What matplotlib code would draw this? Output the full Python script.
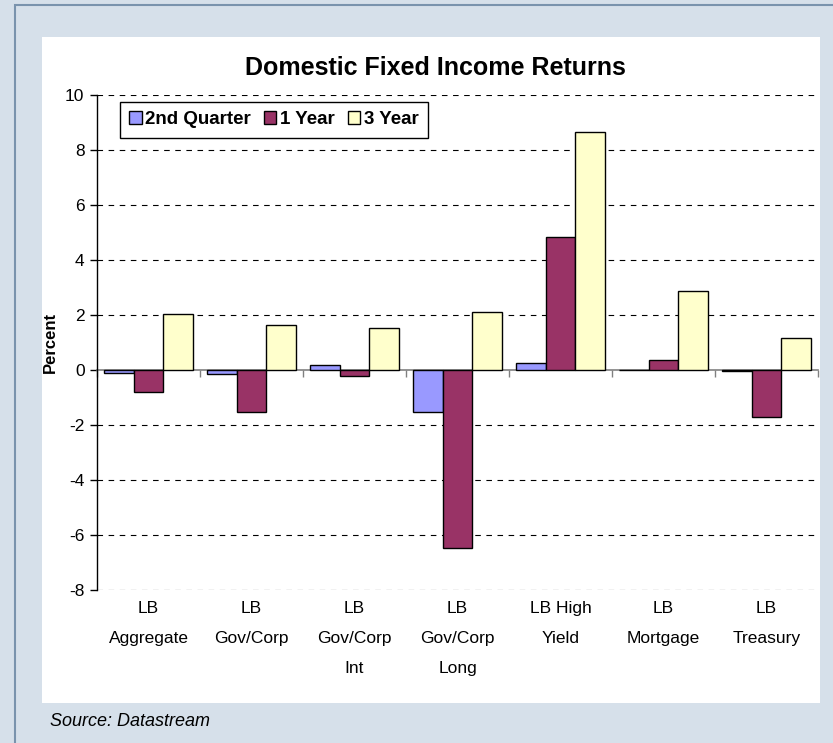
import numpy as np
import matplotlib.pyplot as plt
from matplotlib.patches import Rectangle

plt.rcParams['font.family'] = ['Liberation Sans', 'DejaVu Sans']
plt.rcParams['axes.unicode_minus'] = False

# Returns by index, in percent
categories = ["LB\nAggregate", "LB\nGov/Corp", "LB\nGov/Corp\nInt", "LB\nGov/Corp\nLong",
              "LB High\nYield", "LB\nMortgage", "LB\nTreasury"]
quarter_2nd = [-0.12, -0.16, 0.20, -1.52, 0.25, 0.0, -0.05]
one_year = [-0.81, -1.52, -0.23, -6.47, 4.84, 0.36, -1.72]
three_year = [2.05, 1.64, 1.53, 2.10, 8.65, 2.87, 1.15]
y_ticks = [-8, -6, -4, -2, 0, 2, 4, 6, 8, 10]

fig = plt.figure(figsize=(8.33, 7.43), dpi=100)
fig.patch.set_facecolor('#d6e0ea')

# outer frame and white chart panel
fig.patches.append(Rectangle((15/833, -0.05), 1.1, 1 - 5/743 + 0.05, transform=fig.transFigure,
                             facecolor='#d6e0ea', edgecolor='#7a93ad', linewidth=1.5, zorder=0))
fig.patches.append(Rectangle((42/833, 1 - 703/743), (820-42)/833, (703-37)/743,
                             transform=fig.transFigure, facecolor='white',
                             edgecolor='none', zorder=1))

ax = fig.add_axes([97/833, 1 - 590/743, 721/833, 495/743])
ax.set_facecolor('white')
ax.set_zorder(2)

x = np.arange(len(categories))
w = 0.285
ax.bar(x - w, quarter_2nd, w, color='#9999ff', edgecolor='black', linewidth=1.0,
       label='2nd Quarter', zorder=3)
ax.bar(x, one_year, w, color='#993366', edgecolor='black', linewidth=1.0,
       label='1 Year', zorder=3)
ax.bar(x + w, three_year, w, color='#ffffcc', edgecolor='black', linewidth=1.0,
       label='3 Year', zorder=3)

ax.set_xlim(-0.5, len(categories) - 0.5)
ax.set_ylim(-8, 10)
ax.set_yticks(y_ticks)
ax.tick_params(axis='y', labelsize=12.5, direction='out', length=5, width=1, pad=4)
for v in y_ticks:
    if v != 0:
        ax.axhline(v, color='black', linewidth=0.8, linestyle=(0, (5, 5)), zorder=1)

ax.spines['top'].set_visible(False)
ax.spines['right'].set_visible(False)
ax.spines['left'].set_linewidth(1.0)
ax.spines['bottom'].set_position(('data', 0))
ax.spines['bottom'].set_color('#808080')
ax.spines['bottom'].set_linewidth(1.2)
ax.spines['bottom'].set_zorder(2)

ax.set_xticks(np.arange(len(categories) + 1) - 0.5)
ax.set_xticklabels([])
ax.tick_params(axis='x', direction='out', length=5, width=1, color='#808080')

for i, name in enumerate(categories):
    ax.text(i, -0.022, name, transform=ax.get_xaxis_transform(), ha='center', va='top',
            fontsize=12.5, linespacing=2.25)

ax.set_ylabel('Percent', fontsize=12, fontweight='bold', labelpad=5)

leg = ax.legend(loc='upper left', bbox_to_anchor=(0.032, 0.986), borderaxespad=0,
                ncol=3, fancybox=False, framealpha=1, edgecolor='black',
                handlelength=0.65, handleheight=0.65, handletextpad=0.2,
                columnspacing=0.7, borderpad=0.5,
                prop={'size': 13.5, 'weight': 'bold'})
leg.get_frame().set_linewidth(1.0)

fig.text(435/833, 1 - 68/743, 'Domestic Fixed Income Returns', ha='center', va='center',
         fontsize=18, fontweight='bold')
fig.text(50/833, 1 - 721/743, 'Source: Datastream', ha='left', va='center',
         fontsize=13, style='italic')

fig.savefig('out.png', dpi=100, facecolor=fig.get_facecolor())
